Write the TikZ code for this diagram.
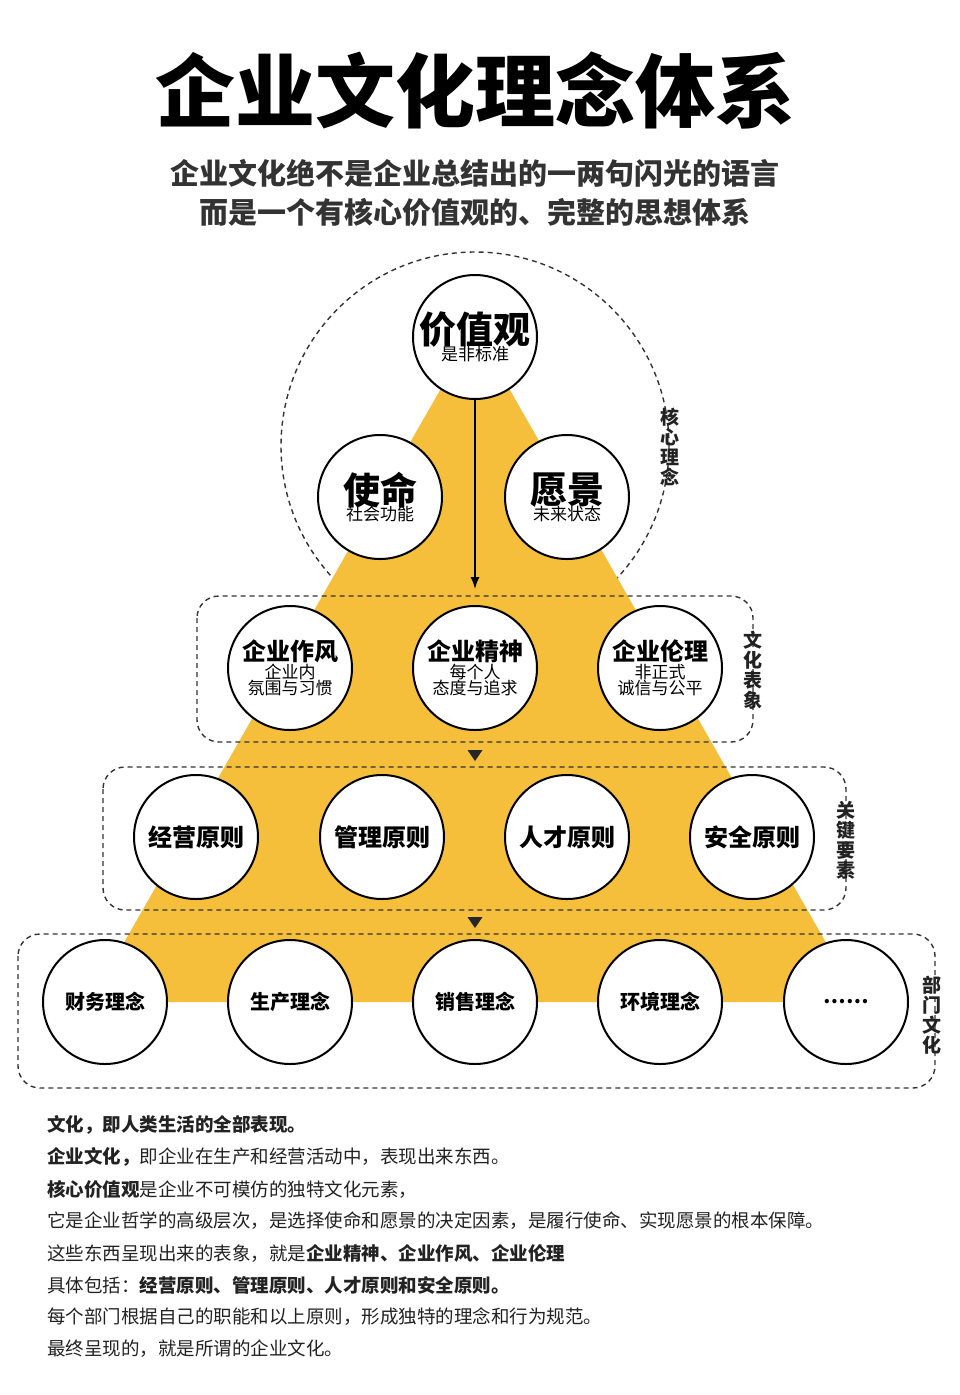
\documentclass[tikz,border=0pt]{standalone}
\usepackage{fontspec}
\setmainfont{Noto Sans CJK SC}
\usetikzlibrary{shapes.geometric,arrows.meta}
\definecolor{ylw}{HTML}{F5BE3B}
\definecolor{txt}{HTML}{222222}
\begin{document}
\begin{tikzpicture}[x=1pt,y=-1pt,
  circ/.style={circle,draw=black,line width=2pt,fill=white,minimum size=124pt,inner sep=0pt,align=center,text=black},
  dbox/.style={draw=black!80,line width=1.4pt,dash pattern=on 5pt off 4pt,rounded corners=22pt},
  vlab/.style={font=\fontsize{19}{20}\selectfont\bfseries,align=center,text=txt,inner sep=0pt},
  tri/.style={fill=black!85,isosceles triangle,shape border rotate=-90,isosceles triangle stretches,minimum width=15pt,minimum height=11pt,inner sep=0pt},
  para/.style={anchor=west,font=\fontsize{18.5}{20}\selectfont,text=txt,inner sep=0pt}]
\fill[white] (0,0) rectangle (959,1395);
\useasboundingbox (0,0) rectangle (959,1395);
% title
\node[font=\fontsize{80}{84}\selectfont\bfseries] (title) at (475,90) {企业文化理念体系};
\node[font=\fontsize{29}{32}\selectfont\bfseries,text=black!80] (sub1) at (475,173) {企业文化绝不是企业总结出的一两句闪光的语言};
\node[font=\fontsize{29}{32}\selectfont\bfseries,text=black!80] (sub2) at (475,212) {而是一个有核心价值观的、完整的思想体系};
% core circle
\draw[black!80,line width=1.4pt,dash pattern=on 5pt off 4pt] (475,446) circle (194);
% triangle
\fill[ylw] (475,329) -- (860,1002) -- (90,1002) -- cycle;
% boxes
\draw[dbox] (197,596) rectangle (753,742);
\draw[dbox] (103,767) rectangle (846,910);
\draw[dbox] (18,934) rectangle (935,1088);
% circles
\node[circ] (jz) at (475,337) {{\fontsize{37}{40}\selectfont\bfseries 价值观}\\[-2pt]{\fontsize{17}{19}\selectfont 是非标准}};
\node[circ] (sm) at (380,497) {{\fontsize{37}{40}\selectfont\bfseries 使命}\\[-2pt]{\fontsize{17}{19}\selectfont 社会功能}};
\node[circ] (yj) at (567,497) {{\fontsize{37}{40}\selectfont\bfseries 愿景}\\[-2pt]{\fontsize{17}{19}\selectfont 未来状态}};
\node[circ] (zf) at (290,668) {{\fontsize{24}{28}\selectfont\bfseries 企业作风}\\{\fontsize{17}{23}\selectfont 企业内}\\{\fontsize{17}{23}\selectfont 氛围与习惯}};
\node[circ] (js) at (475,668) {{\fontsize{24}{28}\selectfont\bfseries 企业精神}\\{\fontsize{17}{23}\selectfont 每个人}\\{\fontsize{17}{23}\selectfont 态度与追求}};
\node[circ] (ll) at (660,668) {{\fontsize{24}{28}\selectfont\bfseries 企业伦理}\\{\fontsize{17}{23}\selectfont 非正式}\\{\fontsize{17}{23}\selectfont 诚信与公平}};
\node[circ,font=\fontsize{24}{28}\selectfont\bfseries] (jy) at (196,837) {经营原则};
\node[circ,font=\fontsize{24}{28}\selectfont\bfseries] (gl) at (382,837) {管理原则};
\node[circ,font=\fontsize{24}{28}\selectfont\bfseries] (rc) at (567,837) {人才原则};
\node[circ,font=\fontsize{24}{28}\selectfont\bfseries] (aq) at (752,837) {安全原则};
\node[circ,font=\fontsize{20}{24}\selectfont\bfseries] (cw) at (105,1002) {财务理念};
\node[circ,font=\fontsize{20}{24}\selectfont\bfseries] (sc) at (290,1002) {生产理念};
\node[circ,font=\fontsize{20}{24}\selectfont\bfseries] (xs) at (475,1002) {销售理念};
\node[circ,font=\fontsize{20}{24}\selectfont\bfseries] (hj) at (660,1002) {环境理念};
\node[circ,font=\fontsize{20}{24}\selectfont\bfseries] (dd) at (846,1002) {……};
% arrows
\coordinate (aend) at (475,589);
\draw[black,line width=1.5pt,-{Latex[length=12pt,width=9pt]}] (jz.south) -- (aend);
\node[tri] (t1) at (475,754) {};
\node[tri] (t2) at (475,921) {};
% vertical labels
\node[vlab] (l1) at (670,447) {核\\心\\理\\念};
\node[vlab] (l2) at (753,670) {文\\化\\表\\象};
\node[vlab] (l3) at (846,840) {关\\键\\要\\素};
\node[vlab] (l4) at (932,1015) {部\\门\\文\\化};
% paragraph
\node[para] (p1) at (47,1125) {\bfseries 文化，即人类生活的全部表现。};
\node[para] (p2) at (47,1157) {{\bfseries 企业文化，}即企业在生产和经营活动中，表现出来东西。};
\node[para] (p3) at (47,1189) {{\bfseries 核心价值观}是企业不可模仿的独特文化元素，};
\node[para] (p4) at (47,1221) {它是企业哲学的高级层次，是选择使命和愿景的决定因素，是履行使命、实现愿景的根本保障。};
\node[para] (p5) at (47,1253) {这些东西呈现出来的表象，就是{\bfseries 企业精神、企业作风、企业伦理}};
\node[para] (p6) at (47,1285) {具体包括：{\bfseries 经营原则、管理原则、人才原则和安全原则。}};
\node[para] (p7) at (47,1317) {每个部门根据自己的职能和以上原则，形成独特的理念和行为规范。};
\node[para] (p8) at (47,1349) {最终呈现的，就是所谓的企业文化。};
\end{tikzpicture}
\end{document}
